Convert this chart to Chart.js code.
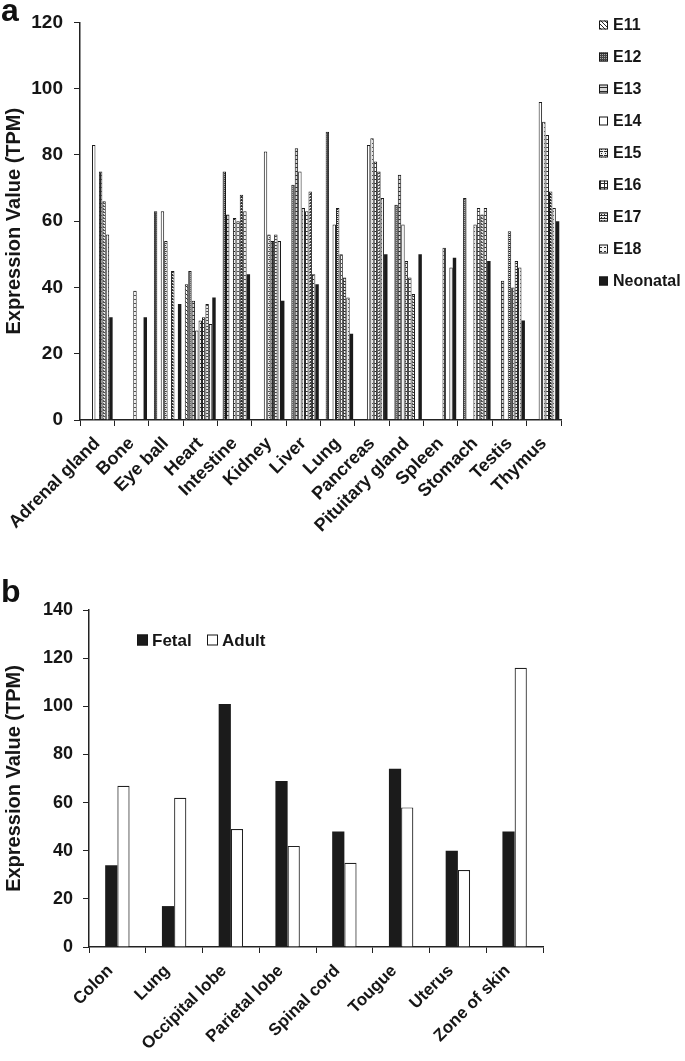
<!DOCTYPE html>
<html>
<head>
<meta charset="utf-8">
<script src="https://cdn.jsdelivr.net/npm/chart.js@4.4.1/dist/chart.umd.min.js"></script>
<style>
  body { margin: 0; width: 685px; height: 1061px; overflow: hidden; background: #fff; position: relative; }
  canvas { position: absolute; left: 0; }
  .panel { position: absolute; left: 1px; font: bold 32px "Liberation Sans", Arial, sans-serif; line-height: 1; color: #111; }
</style>
</head>
<body>
<canvas id="chartA" width="685" height="560" style="top:0"></canvas>
<canvas id="chartB" width="685" height="501" style="top:560px"></canvas>
<div class="panel" style="top:-6px">a</div>
<div class="panel" style="top:575px">b</div>
<script>
// panel a: mouse tissues x developmental stage
const tissuesA = ['Adrenal gland', 'Bone', 'Eye ball', 'Heart', 'Intestine', 'Kidney', 'Liver', 'Lung',
  'Pancreas', 'Pituitary gland', 'Spleen', 'Stomach', 'Testis', 'Thymus'];
const stagesA = ['E11', 'E12', 'E13', 'E14', 'E15', 'E16', 'E17', 'E18', 'Neonatal'];

const e11 = [null, null, null, 41, null, null, null, null, null, null, null, null, null, null];
const e12 = [null, null, 63, 45, 75, null, 71, 87, null, 65, null, 67, null, null];
const e13 = [null, null, null, 36, 62, null, 82, null, null, 74, null, null, 42, null];
const e14 = [83, null, 63, 27, null, 81, 75, 59, 83, 59, null, null, null, 96];
const e15 = [null, null, 54, 30, 61, 56, 64, 64, 85, 48, null, 59, 57, 90];
const e16 = [75, 39, null, 31, 60, 54, 63, 50, 78, 43, 52, 64, 40, 86];
const e17 = [66, null, 45, 35, 68, 56, 69, 43, 75, 38, null, 62, 48, 69];
const e18 = [56, null, null, 29, 63, 54, 44, 37, 67, null, 46, 64, 46, 64];
const neonatal = [31, 31, 35, 37, 44, 36, 41, 26, 50, 50, 49, 48, 30, 60];

// panel b: human tissues
const tissuesB = ['Colon', 'Lung', 'Occipital lobe', 'Parietal lobe', 'Spinal cord', 'Tougue', 'Uterus', 'Zone of skin'];
const fetal = [34, 17, 101, 69, 48, 74, 40, 48];
const adult = [67, 62, 49, 42, 35, 58, 32, 116];

const ink = '#161616';
const fam = '"Liberation Sans", Arial, sans-serif';
const bold = size => ({ family: fam, size: size, weight: 'bold' });

// little bitmap tiles for the hatched bars
function tile(size, bg, draw) {
  const c = document.createElement('canvas');
  c.width = size; c.height = size;
  const g = c.getContext('2d');
  g.fillStyle = bg;
  g.fillRect(0, 0, size, size);
  g.fillStyle = '#2a2a2a';
  draw(g);
  return g.createPattern(c, 'repeat');
}
const px = (g, x, y) => g.fillRect(x, y, 1, 1);

const fills = [
  tile(4, '#fff', g => { for (let i = 0; i < 4; i++) px(g, i, i); }),
  tile(2, '#454545', g => { g.fillStyle = '#aaa'; px(g, 0, 0); }),
  tile(4, '#d8d8d8', g => { g.fillRect(0, 3, 4, 1); }),
  '#ffffff',
  tile(4, '#f0f0f0', g => { g.fillRect(0, 3, 3, 1); px(g, 1, 1); }),
  tile(4, '#fff', g => { g.fillRect(0, 3, 4, 1); g.fillRect(0, 0, 1, 4); }),
  tile(3, '#eee', g => { px(g, 1, 1); g.fillRect(0, 2, 3, 1); }),
  tile(4, '#f4f4f4', g => { g.fillRect(0, 3, 2, 1); }),
  '#1b1b1b'
];
const stageValues = [e11, e12, e13, e14, e15, e16, e17, e18, neonatal];

// legend drawn straight onto the canvas at a fixed spot
const boxLegend = {
  id: 'boxLegend',
  afterDraw(chart, args, opts) {
    const ctx = chart.ctx;
    ctx.save();
    ctx.font = opts.font;
    ctx.textBaseline = 'middle';
    chart.data.datasets.forEach((ds, i) => {
      const x = opts.x + i * opts.dx;
      const y = opts.y + i * opts.dy;
      ctx.fillStyle = ds.backgroundColor;
      ctx.fillRect(x, y - opts.box / 2, opts.box, opts.box);
      ctx.strokeStyle = ink;
      ctx.lineWidth = 1;
      ctx.strokeRect(x + 0.5, y - opts.box / 2 + 0.5, opts.box - 1, opts.box - 1);
      ctx.fillStyle = ink;
      ctx.fillText(ds.label, x + opts.box + opts.gap, y + 1);
    });
    ctx.restore();
  }
};

function axes(maxY, yWidth, xHeight, tickPad, tickFont, labelFont, labelPad, labelShift) {
  return {
    x: {
      offset: true,
      grid: { offset: true, drawOnChartArea: false, tickLength: 6, color: '#222' },
      border: { color: '#222', width: 1.5 },
      ticks: {
        font: bold(labelFont), color: ink, minRotation: 45, maxRotation: 45, autoSkip: false,
        padding: labelPad, labelOffset: labelShift
      },
      afterFit: s => { s.height = xHeight; }
    },
    y: {
      min: 0,
      max: maxY,
      grid: { drawOnChartArea: false, tickLength: 6, color: '#222' },
      border: { color: '#222', width: 1.5 },
      ticks: { stepSize: 20, font: bold(tickFont), color: ink, padding: tickPad },
      title: { display: true, text: 'Expression Value (TPM)', font: bold(20), color: ink, padding: { top: 2, bottom: 0 } },
      afterFit: s => { s.width = yWidth; }
    }
  };
}

new Chart(document.getElementById('chartA'), {
  type: 'bar',
  data: {
    labels: tissuesA,
    datasets: stagesA.map((s, i) => ({
      label: s,
      data: stageValues[i],
      backgroundColor: fills[i],
      borderColor: '#1a1a1a',
      borderWidth: i === 8 ? 0 : 1
    }))
  },
  options: {
    responsive: false,
    animation: false,
    layout: { padding: { left: 0, top: 22, right: 124, bottom: 0 } },
    datasets: { bar: { categoryPercentage: 0.9, barPercentage: 1 } },
    plugins: {
      legend: { display: false },
      tooltip: { enabled: false },
      boxLegend: { x: 599, y: 25, dx: 0, dy: 32, box: 9, gap: 5, font: 'bold 16px ' + fam }
    },
    scales: axes(120, 80, 140, 11, 19, 18, 7, 0)
  },
  plugins: [boxLegend]
});

new Chart(document.getElementById('chartB'), {
  type: 'bar',
  data: {
    labels: tissuesB,
    datasets: [
      { label: 'Fetal', data: fetal, backgroundColor: '#1b1b1b', borderWidth: 0 },
      { label: 'Adult', data: adult, backgroundColor: '#ffffff', borderColor: '#222', borderWidth: 1.2 }
    ]
  },
  options: {
    responsive: false,
    animation: false,
    layout: { padding: { left: 0, top: 50, right: 142, bottom: 0 } },
    datasets: { bar: { categoryPercentage: 0.43, barPercentage: 1 } },
    plugins: {
      legend: { display: false },
      tooltip: { enabled: false },
      boxLegend: { x: 137, y: 80, dx: 70, dy: 0, box: 11, gap: 4, font: 'bold 17px ' + fam }
    },
    scales: axes(140, 89, 114, 10, 18, 17, 8, -7)
  },
  plugins: [boxLegend]
});
</script>
</body>
</html>
